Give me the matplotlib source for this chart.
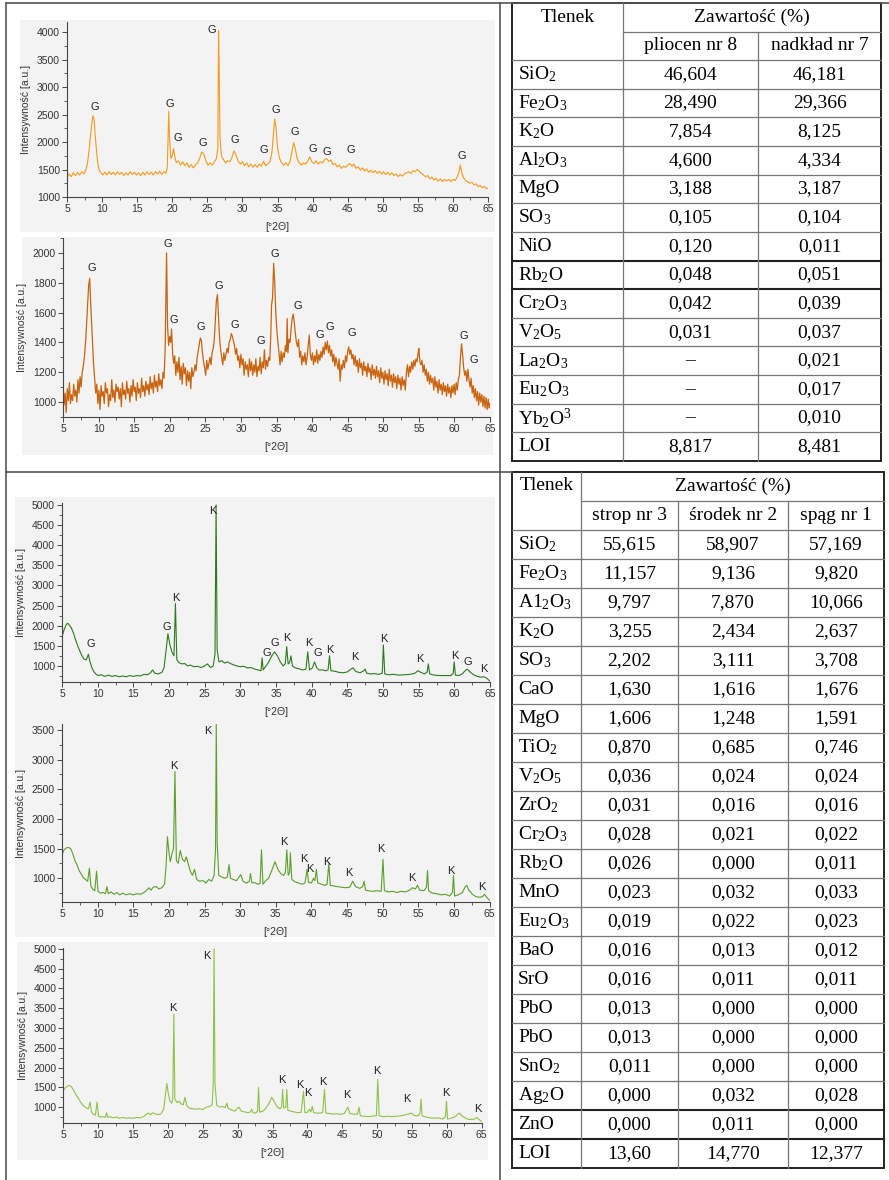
import numpy as np
import matplotlib
matplotlib.use('Agg')
import matplotlib.pyplot as plt
from matplotlib.patches import Rectangle
from matplotlib.ticker import MultipleLocator

plt.rcParams['font.family'] = ['Liberation Sans', 'DejaVu Sans']
plt.rcParams['mathtext.fontset'] = 'custom'
plt.rcParams['mathtext.rm'] = 'Liberation Serif'
plt.rcParams['mathtext.it'] = 'Liberation Serif:italic'
plt.rcParams['mathtext.bf'] = 'Liberation Serif:bold'

W, H = 889, 1180

# ---- XRD patterns (2theta, intensity) ----
PLIOCEN_XRD = [
    (5.0, 1350), (5.3, 1420), (5.6, 1370), (5.9, 1440), (6.2, 1390), (6.5, 1450), (6.8, 1400), (7.1, 1460),
    (7.4, 1420), (7.7, 1500), (7.9, 1600), (8.1, 1800), (8.3, 2050), (8.5, 2300), (8.7, 2480), (8.85, 2420),
    (9.0, 2150), (9.2, 1850), (9.4, 1600), (9.6, 1480), (9.8, 1450), (10.1, 1400), (10.4, 1450), (10.7, 1400),
    (11.0, 1460), (11.3, 1410), (11.6, 1450), (11.9, 1400), (12.2, 1460), (12.5, 1410), (12.8, 1450), (13.1, 1390),
    (13.4, 1440), (13.7, 1400), (14.0, 1460), (14.3, 1410), (14.6, 1450), (14.9, 1400), (15.2, 1440), (15.5, 1390),
    (15.8, 1450), (16.1, 1400), (16.4, 1460), (16.7, 1410), (17.0, 1450), (17.3, 1400), (17.6, 1460), (17.9, 1420),
    (18.2, 1470), (18.5, 1410), (18.8, 1460), (19.1, 1430), (19.3, 1550), (19.5, 2560), (19.6, 2100), (19.8, 1700),
    (20.0, 1750), (20.2, 1880), (20.4, 1700), (20.6, 1620), (20.9, 1660), (21.2, 1580), (21.5, 1640), (21.8, 1570),
    (22.1, 1620), (22.4, 1540), (22.7, 1590), (23.0, 1530), (23.3, 1580), (23.6, 1620), (23.9, 1700), (24.2, 1820),
    (24.5, 1780), (24.8, 1650), (25.1, 1580), (25.4, 1620), (25.7, 1580), (26.0, 1640), (26.3, 1700), (26.5, 1900),
    (26.6, 4030), (26.7, 3250), (26.8, 2100), (27.0, 1750), (27.3, 1680), (27.6, 1620), (27.9, 1660), (28.2, 1640),
    (28.5, 1720), (28.8, 1840), (29.1, 1760), (29.4, 1650), (29.7, 1600), (30.0, 1640), (30.3, 1570), (30.6, 1620),
    (30.9, 1550), (31.2, 1600), (31.5, 1540), (31.8, 1590), (32.1, 1540), (32.4, 1600), (32.7, 1560), (33.0, 1650),
    (33.3, 1570), (33.6, 1600), (33.9, 1640), (34.2, 1800), (34.45, 2200), (34.6, 2420), (34.8, 2250), (35.0, 1900),
    (35.3, 1700), (35.6, 1620), (35.9, 1580), (36.2, 1620), (36.5, 1570), (36.8, 1650), (37.1, 1850), (37.3, 1990),
    (37.5, 1900), (37.8, 1700), (38.1, 1620), (38.4, 1580), (38.7, 1620), (39.0, 1600), (39.3, 1650), (39.6, 1730),
    (39.9, 1640), (40.2, 1610), (40.5, 1660), (40.8, 1600), (41.1, 1640), (41.4, 1620), (41.7, 1680), (42.0, 1700),
    (42.3, 1650), (42.6, 1670), (42.9, 1590), (43.2, 1610), (43.5, 1550), (43.8, 1580), (44.1, 1520), (44.4, 1560),
    (44.7, 1540), (45.0, 1580), (45.3, 1610), (45.6, 1560), (45.9, 1600), (46.2, 1520), (46.5, 1550), (46.8, 1490),
    (47.1, 1530), (47.4, 1470), (47.7, 1510), (48.0, 1450), (48.3, 1490), (48.6, 1440), (48.9, 1480), (49.2, 1430),
    (49.5, 1470), (49.8, 1420), (50.1, 1460), (50.4, 1410), (50.7, 1450), (51.0, 1400), (51.3, 1440), (51.6, 1390),
    (51.9, 1420), (52.2, 1370), (52.5, 1410), (52.8, 1380), (53.1, 1420), (53.4, 1440), (53.7, 1460), (54.0, 1430),
    (54.3, 1480), (54.6, 1460), (54.9, 1500), (55.2, 1470), (55.5, 1430), (55.8, 1400), (56.1, 1370), (56.4, 1390),
    (56.7, 1330), (57.0, 1360), (57.3, 1310), (57.6, 1340), (57.9, 1290), (58.2, 1330), (58.5, 1280), (58.8, 1320),
    (59.1, 1290), (59.4, 1320), (59.7, 1280), (60.0, 1320), (60.3, 1300), (60.6, 1360), (60.85, 1450), (61.05, 1580),
    (61.25, 1450), (61.5, 1350), (61.8, 1300), (62.1, 1280), (62.4, 1250), (62.7, 1270), (63.0, 1220), (63.3, 1240),
    (63.6, 1190), (63.9, 1210), (64.2, 1170), (64.5, 1190), (64.8, 1150), (65.0, 1160),
]

NADKLAD_XRD = [
    (5.0, 1150), (5.15, 980), (5.3, 1060), (5.45, 930), (5.6, 1090), (5.75, 1010), (5.9, 1130), (6.05, 990),
    (6.2, 1050), (6.35, 1010), (6.5, 1120), (6.65, 1040), (6.8, 1080), (6.95, 1000), (7.1, 1150), (7.25, 1060),
    (7.4, 1170), (7.55, 1100), (7.7, 1200), (7.85, 1240), (8.0, 1300), (8.2, 1420), (8.4, 1600), (8.6, 1780),
    (8.75, 1830), (8.9, 1650), (9.1, 1450), (9.3, 1250), (9.45, 1150), (9.6, 1060), (9.75, 1120), (9.9, 990),
    (10.05, 1080), (10.2, 950), (10.35, 1110), (10.5, 1040), (10.65, 1070), (10.8, 990), (10.95, 1130), (11.1, 1060),
    (11.25, 1090), (11.4, 970), (11.55, 1050), (11.7, 1010), (11.85, 1150), (12.0, 1030), (12.15, 1080), (12.3, 1000),
    (12.45, 1120), (12.6, 1070), (12.75, 1100), (12.9, 1020), (13.05, 1090), (13.2, 970), (13.35, 1130), (13.5, 1050),
    (13.65, 1080), (13.8, 1020), (13.95, 1140), (14.1, 1060), (14.25, 1090), (14.4, 1000), (14.55, 1110), (14.7, 1040),
    (14.85, 1150), (15.0, 1070), (15.15, 1100), (15.3, 1010), (15.45, 1130), (15.6, 1060), (15.75, 1090), (15.9, 1030),
    (16.05, 1160), (16.2, 1070), (16.35, 1110), (16.5, 1040), (16.65, 1140), (16.8, 1080), (16.95, 1120), (17.1, 1050),
    (17.25, 1170), (17.4, 1090), (17.55, 1130), (17.7, 1060), (17.85, 1180), (18.0, 1100), (18.15, 1140), (18.3, 1070),
    (18.45, 1190), (18.6, 1110), (18.75, 1150), (18.9, 1090), (19.05, 1200), (19.2, 1160), (19.35, 1350),
    (19.45, 1700), (19.55, 2000), (19.7, 1500), (19.85, 1380), (20.0, 1440), (20.15, 1400), (20.25, 1490), (20.4, 1330),
    (20.55, 1260), (20.7, 1310), (20.85, 1180), (21.0, 1270), (21.15, 1200), (21.3, 1300), (21.45, 1150), (21.6, 1240),
    (21.75, 1120), (21.9, 1260), (22.05, 1190), (22.2, 1230), (22.35, 1110), (22.5, 1210), (22.65, 1140), (22.8, 1200),
    (22.95, 1090), (23.1, 1230), (23.25, 1170), (23.4, 1200), (23.55, 1250), (23.7, 1210), (23.85, 1300), (24.0, 1340),
    (24.15, 1390), (24.3, 1430), (24.45, 1410), (24.6, 1330), (24.75, 1270), (24.9, 1230), (25.05, 1180), (25.2, 1280),
    (25.35, 1220), (25.5, 1260), (25.65, 1300), (25.8, 1250), (25.95, 1330), (26.1, 1360), (26.25, 1410), (26.4, 1550),
    (26.55, 1680), (26.7, 1720), (26.85, 1580), (27.0, 1430), (27.15, 1350), (27.3, 1300), (27.45, 1250), (27.6, 1330),
    (27.75, 1280), (27.9, 1320), (28.05, 1360), (28.2, 1330), (28.35, 1400), (28.5, 1420), (28.65, 1460), (28.8, 1440),
    (28.95, 1410), (29.1, 1380), (29.25, 1320), (29.4, 1360), (29.55, 1280), (29.7, 1310), (29.85, 1230), (30.0, 1320),
    (30.15, 1250), (30.3, 1290), (30.45, 1180), (30.6, 1270), (30.75, 1220), (30.9, 1250), (31.05, 1170), (31.2, 1290),
    (31.35, 1210), (31.5, 1270), (31.65, 1180), (31.8, 1250), (31.95, 1200), (32.1, 1290), (32.25, 1170), (32.4, 1240),
    (32.55, 1210), (32.7, 1300), (32.85, 1190), (33.0, 1270), (33.15, 1230), (33.3, 1350), (33.45, 1220), (33.6, 1280),
    (33.75, 1240), (33.9, 1300), (34.05, 1280), (34.2, 1450), (34.3, 1650), (34.45, 1700), (34.6, 1930), (34.75, 1800),
    (34.9, 1600), (35.05, 1480), (35.2, 1400), (35.35, 1330), (35.5, 1250), (35.65, 1340), (35.8, 1270), (35.95, 1330),
    (36.1, 1300), (36.25, 1380), (36.4, 1340), (36.5, 1560), (36.6, 1330), (36.75, 1420), (36.9, 1400), (37.05, 1490),
    (37.2, 1560), (37.35, 1590), (37.5, 1530), (37.65, 1460), (37.8, 1400), (37.95, 1370), (38.1, 1420), (38.25, 1300),
    (38.4, 1340), (38.55, 1250), (38.7, 1310), (38.85, 1270), (39.0, 1330), (39.15, 1250), (39.3, 1300), (39.45, 1380),
    (39.6, 1450), (39.75, 1320), (39.9, 1280), (40.05, 1330), (40.2, 1250), (40.35, 1310), (40.5, 1270), (40.65, 1350),
    (40.8, 1260), (40.95, 1320), (41.1, 1280), (41.25, 1340), (41.4, 1300), (41.55, 1370), (41.7, 1320), (41.85, 1400),
    (42.0, 1350), (42.15, 1410), (42.3, 1330), (42.45, 1380), (42.6, 1310), (42.75, 1350), (42.9, 1270), (43.05, 1320),
    (43.2, 1240), (43.35, 1300), (43.5, 1260), (43.65, 1220), (43.8, 1290), (43.95, 1140), (44.1, 1250), (44.25, 1220),
    (44.4, 1280), (44.55, 1230), (44.7, 1310), (44.85, 1270), (45.0, 1340), (45.15, 1370), (45.3, 1320), (45.45, 1350),
    (45.6, 1290), (45.75, 1320), (45.9, 1250), (46.05, 1310), (46.2, 1240), (46.35, 1280), (46.5, 1200), (46.65, 1290),
    (46.8, 1230), (46.95, 1260), (47.1, 1180), (47.25, 1270), (47.4, 1210), (47.55, 1240), (47.7, 1170), (47.85, 1260),
    (48.0, 1200), (48.15, 1230), (48.3, 1150), (48.45, 1250), (48.6, 1180), (48.75, 1220), (48.9, 1160), (49.05, 1240),
    (49.2, 1170), (49.35, 1210), (49.5, 1130), (49.65, 1230), (49.8, 1160), (49.95, 1200), (50.1, 1120), (50.25, 1210),
    (50.4, 1150), (50.55, 1190), (50.7, 1110), (50.85, 1220), (51.0, 1140), (51.15, 1180), (51.3, 1100), (51.45, 1190),
    (51.6, 1130), (51.75, 1170), (51.9, 1090), (52.05, 1180), (52.2, 1120), (52.35, 1160), (52.5, 1080), (52.65, 1170),
    (52.8, 1110), (52.95, 1150), (53.1, 1080), (53.25, 1200), (53.4, 1250), (53.55, 1170), (53.7, 1240), (53.85, 1200),
    (54.0, 1270), (54.15, 1220), (54.3, 1280), (54.45, 1240), (54.6, 1290), (54.75, 1270), (54.9, 1330), (55.0, 1360),
    (55.15, 1270), (55.3, 1250), (55.45, 1280), (55.6, 1200), (55.75, 1250), (55.9, 1180), (56.05, 1220), (56.2, 1140),
    (56.35, 1200), (56.5, 1120), (56.65, 1180), (56.8, 1130), (56.95, 1160), (57.1, 1080), (57.25, 1170), (57.4, 1100),
    (57.55, 1140), (57.7, 1060), (57.85, 1150), (58.0, 1080), (58.15, 1120), (58.3, 1050), (58.45, 1130), (58.6, 1070),
    (58.75, 1110), (58.9, 1040), (59.05, 1120), (59.2, 1060), (59.35, 1100), (59.5, 1030), (59.65, 1110), (59.8, 1060),
    (59.95, 1120), (60.1, 1050), (60.25, 1130), (60.4, 1080), (60.55, 1150), (60.7, 1180), (60.85, 1300),
    (61.0, 1390), (61.15, 1320), (61.3, 1230), (61.45, 1180), (61.6, 1210), (61.75, 1140), (61.9, 1220), (62.05, 1150),
    (62.2, 1100), (62.35, 1160), (62.5, 1060), (62.65, 1110), (62.8, 1030), (62.95, 1090), (63.1, 1010), (63.25, 1070),
    (63.4, 980), (63.55, 1060), (63.7, 1000), (63.85, 1050), (64.0, 970), (64.15, 1040), (64.3, 960), (64.45, 1030),
    (64.6, 950), (64.75, 1020), (64.9, 960), (65.0, 990),
]

STROP_XRD = [
    (5.0, 1730), (5.3, 1900), (5.6, 2030), (5.8, 2060), (6.0, 2020), (6.3, 1950), (6.6, 1820), (6.9, 1650),
    (7.2, 1500), (7.5, 1370), (7.8, 1250), (8.1, 1170), (8.4, 1150), (8.7, 1290), (8.9, 1120), (9.2, 950),
    (9.5, 850), (9.8, 790), (10.1, 760), (10.5, 780), (11.0, 740), (11.5, 770), (12.0, 740), (12.5, 760),
    (13.0, 730), (13.5, 750), (14.0, 730), (14.5, 760), (15.0, 740), (15.5, 760), (16.0, 750), (16.5, 790),
    (17.0, 780), (17.4, 830), (17.7, 900), (18.0, 820), (18.5, 800), (19.0, 840), (19.3, 950), (19.6, 1400),
    (19.85, 1800), (20.1, 1550), (20.4, 1350), (20.7, 1250), (20.9, 2550), (21.1, 1150), (21.4, 1080), (21.8, 1050),
    (22.2, 1060), (22.6, 1000), (23.0, 1020), (23.5, 980), (24.0, 990), (24.5, 960), (25.0, 1000), (25.4, 1050),
    (25.8, 960), (26.2, 1000), (26.45, 1300), (26.6, 5000), (26.75, 1400), (27.0, 1100), (27.4, 1130), (27.8, 1070),
    (28.2, 1100), (28.6, 1060), (29.0, 1030), (29.5, 1000), (30.0, 980), (30.5, 990), (31.0, 950), (31.5, 960),
    (32.0, 920), (32.5, 900), (32.9, 880), (33.05, 1200), (33.2, 900), (33.6, 1000), (34.0, 1100), (34.4, 1250),
    (34.8, 1350), (35.2, 1250), (35.6, 1100), (36.0, 1000), (36.3, 1050), (36.5, 1480), (36.7, 1050), (36.9, 1080),
    (37.1, 1250), (37.3, 1000), (37.7, 950), (38.2, 930), (38.7, 900), (39.2, 920), (39.45, 1350), (39.7, 900),
    (40.1, 950), (40.4, 1100), (40.7, 960), (41.0, 900), (41.5, 900), (42.0, 880), (42.3, 900), (42.5, 1250),
    (42.7, 880), (43.2, 870), (43.8, 840), (44.4, 830), (45.0, 850), (45.5, 920), (45.8, 950), (46.2, 860),
    (46.8, 830), (47.3, 880), (47.5, 920), (47.7, 820), (48.2, 800), (48.8, 810), (49.4, 790), (49.9, 820),
    (50.05, 1520), (50.25, 800), (50.8, 780), (51.5, 790), (52.2, 770), (53.0, 780), (53.8, 790), (54.5, 820),
    (54.9, 880), (55.3, 840), (55.8, 800), (56.2, 850), (56.35, 1050), (56.55, 800), (57.2, 770), (58.0, 760),
    (58.8, 760), (59.5, 760), (59.85, 820), (59.98, 1100), (60.15, 770), (60.6, 760), (61.1, 800), (61.5, 880),
    (61.8, 920), (62.2, 850), (62.7, 780), (63.2, 740), (63.7, 720), (64.1, 730), (64.5, 700), (65.0, 620),
]

SRODEK_XRD = [
    (5.0, 1400), (5.3, 1480), (5.6, 1510), (5.9, 1520), (6.2, 1500), (6.5, 1420), (6.8, 1300), (7.1, 1230),
    (7.4, 1130), (7.7, 1070), (8.0, 1010), (8.3, 980), (8.6, 950), (8.85, 1170), (9.05, 870), (9.3, 820),
    (9.6, 790), (9.85, 1120), (10.05, 780), (10.4, 750), (10.8, 760), (11.1, 740), (11.3, 860), (11.5, 740),
    (11.9, 770), (12.3, 730), (12.7, 760), (13.1, 720), (13.5, 750), (14.0, 720), (14.5, 740), (15.0, 720),
    (15.5, 740), (16.0, 730), (16.5, 760), (16.9, 800), (17.2, 840), (17.5, 800), (17.8, 850), (18.2, 860),
    (18.6, 820), (19.0, 840), (19.4, 900), (19.6, 1200), (19.8, 1700), (20.0, 1450), (20.2, 1280), (20.45, 1420),
    (20.65, 1500), (20.85, 2800), (21.05, 1300), (21.3, 1250), (21.6, 1470), (21.9, 1320), (22.2, 1280), (22.45, 1360),
    (22.7, 1250), (23.0, 1120), (23.3, 1050), (23.6, 1150), (23.9, 980), (24.3, 950), (24.8, 960), (25.2, 920),
    (25.6, 980), (26.0, 950), (26.35, 1050), (26.55, 1500), (26.65, 3600), (26.78, 1600), (27.0, 1050), (27.4, 1020),
    (27.8, 1000), (28.2, 1020), (28.45, 1230), (28.65, 1000), (29.0, 980), (29.5, 960), (29.9, 1030), (30.1, 1060),
    (30.4, 950), (30.9, 920), (31.3, 950), (31.45, 1080), (31.65, 920), (32.0, 930), (32.5, 900), (32.8, 910),
    (33.0, 1480), (33.2, 900), (33.6, 960), (34.0, 1000), (34.5, 1150), (34.9, 1280), (35.3, 1150), (35.7, 1080),
    (36.1, 1050), (36.35, 1100), (36.55, 1480), (36.75, 1050), (36.95, 1100), (37.05, 1430), (37.25, 980), (37.7, 940),
    (38.2, 920), (38.7, 900), (39.1, 920), (39.4, 1150), (39.6, 930), (40.0, 920), (40.3, 1000), (40.5, 960),
    (40.7, 1150), (40.9, 920), (41.4, 900), (41.9, 880), (42.2, 900), (42.45, 1250), (42.65, 880), (43.1, 870),
    (43.6, 860), (44.2, 850), (44.8, 840), (45.4, 850), (45.8, 950), (46.2, 860), (46.8, 830), (47.2, 860),
    (47.4, 950), (47.6, 800), (48.0, 790), (48.6, 780), (49.2, 790), (49.8, 780), (50.05, 1320), (50.25, 790),
    (50.8, 770), (51.4, 780), (52.0, 760), (52.6, 780), (53.2, 770), (53.8, 800), (54.2, 840), (54.6, 820),
    (54.9, 880), (55.2, 800), (55.8, 790), (56.15, 850), (56.3, 1130), (56.45, 790), (57.0, 750), (57.6, 740),
    (58.2, 720), (58.8, 730), (59.4, 700), (59.8, 760), (59.95, 1050), (60.1, 700), (60.6, 720), (61.2, 760),
    (61.6, 860), (61.8, 880), (62.1, 800), (62.6, 730), (63.1, 690), (63.6, 680), (64.0, 690), (64.3, 730),
    (64.6, 680), (65.0, 630),
]

SPAG_XRD = [
    (5.0, 1420), (5.3, 1490), (5.6, 1530), (5.9, 1550), (6.2, 1510), (6.5, 1420), (6.8, 1320), (7.1, 1240),
    (7.4, 1150), (7.7, 1070), (8.0, 1020), (8.3, 980), (8.6, 960), (8.85, 1130), (9.05, 870), (9.3, 820),
    (9.6, 800), (9.85, 1130), (10.05, 770), (10.4, 750), (10.8, 760), (11.05, 740), (11.2, 860), (11.4, 740),
    (11.8, 760), (12.2, 730), (12.6, 750), (13.0, 720), (13.5, 740), (14.0, 720), (14.5, 730), (15.0, 720),
    (15.5, 740), (16.0, 730), (16.5, 760), (16.9, 820), (17.2, 850), (17.5, 810), (17.8, 860), (18.2, 830),
    (18.6, 810), (19.0, 830), (19.4, 950), (19.6, 1250), (19.85, 1600), (20.05, 1350), (20.3, 1150), (20.55, 1100),
    (20.7, 1200), (20.85, 3350), (21.0, 1200), (21.3, 1120), (21.6, 1150), (21.9, 1080), (22.2, 1060), (22.45, 1250),
    (22.7, 1050), (23.0, 980), (23.5, 960), (24.0, 950), (24.5, 960), (25.0, 940), (25.5, 1000), (26.0, 1020),
    (26.35, 1060), (26.5, 1600), (26.62, 5000), (26.75, 1600), (27.0, 1050), (27.4, 1000), (27.8, 1020), (28.2, 990),
    (28.45, 1100), (28.65, 970), (29.1, 930), (29.6, 900), (30.0, 980), (30.2, 1000), (30.5, 900), (31.0, 880),
    (31.5, 860), (31.85, 880), (32.0, 950), (32.2, 860), (32.6, 850), (32.85, 900), (33.0, 1500), (33.15, 870),
    (33.6, 900), (34.0, 960), (34.5, 1100), (34.9, 1250), (35.3, 1120), (35.7, 1000), (36.1, 960), (36.3, 1000),
    (36.45, 1450), (36.6, 980), (36.9, 1000), (37.05, 1450), (37.2, 920), (37.6, 900), (38.1, 880), (38.6, 860),
    (39.1, 870), (39.45, 1400), (39.65, 860), (40.0, 870), (40.3, 950), (40.5, 880), (40.7, 1020), (40.9, 860),
    (41.4, 850), (41.9, 850), (42.2, 870), (42.45, 1450), (42.65, 850), (43.1, 840), (43.6, 830), (44.2, 830),
    (44.8, 820), (45.3, 840), (45.8, 1000), (46.1, 840), (46.7, 820), (47.2, 830), (47.4, 1000), (47.6, 780),
    (48.1, 770), (48.7, 760), (49.3, 770), (49.9, 790), (50.1, 1700), (50.3, 780), (50.9, 760), (51.5, 770),
    (52.1, 760), (52.7, 770), (53.3, 780), (53.9, 800), (54.4, 820), (54.9, 850), (55.3, 790), (55.9, 780),
    (56.15, 850), (56.3, 1200), (56.45, 780), (57.0, 750), (57.6, 730), (58.2, 720), (58.8, 730), (59.4, 700),
    (59.8, 760), (59.95, 1150), (60.1, 700), (60.6, 720), (61.2, 760), (61.6, 830), (61.8, 850), (62.1, 790),
    (62.6, 730), (63.1, 690), (63.6, 690), (64.0, 700), (64.3, 740), (64.6, 690), (65.0, 640),
]

# peak labels (phase, 2theta, intensity)
PLIOCEN_LAB = [('G', 8.9, 2630), ('G', 19.7, 2700), ('G', 20.8, 2070), ('G', 24.4, 1980), ('G', 25.7, 4040),
               ('G', 28.9, 2040), ('G', 33.1, 1860), ('G', 34.7, 2580), ('G', 37.5, 2180), ('G', 40.0, 1870),
               ('G', 42.0, 1820), ('G', 45.5, 1860), ('G', 61.2, 1750)]
NADKLAD_LAB = [('G', 9.0, 1900), ('G', 19.7, 2060), ('G', 20.6, 1550), ('G', 24.4, 1500), ('G', 26.9, 1780),
               ('G', 29.1, 1520), ('G', 32.8, 1410), ('G', 34.7, 1995), ('G', 38.0, 1645), ('G', 41.1, 1450),
               ('G', 42.5, 1500), ('G', 45.6, 1460), ('G', 61.25, 1440), ('G', 62.7, 1280)]
STROP_LAB = [('G', 9.1, 1550), ('G', 19.7, 1975), ('K', 20.9, 2700), ('K', 26.1, 4850), ('G', 33.7, 1330),
             ('G', 34.9, 1580), ('K', 36.5, 1690), ('K', 39.6, 1565), ('G', 40.8, 1315), ('K', 42.5, 1400),
             ('K', 46.1, 1230), ('K', 50.1, 1670), ('K', 55.1, 1165), ('K', 60.1, 1255), ('G', 61.9, 1105),
             ('K', 64.15, 925)]
SRODEK_LAB = [('K', 20.75, 2890), ('K', 25.45, 3490), ('K', 36.2, 1605), ('K', 39.0, 1325), ('K', 39.8, 1155),
              ('K', 42.15, 1270), ('K', 45.3, 1085), ('K', 49.7, 1485), ('K', 54.1, 1005), ('K', 59.5, 1130),
              ('K', 63.9, 860)]
SPAG_LAB = [('K', 20.7, 3495), ('K', 25.65, 4825), ('K', 36.3, 1675), ('K', 38.95, 1550), ('K', 40.1, 1365),
            ('K', 42.15, 1635), ('K', 45.65, 1315), ('K', 49.95, 1915), ('K', 54.3, 1195), ('K', 59.85, 1365),
            ('K', 64.4, 960)]

# ---- oxide tables ----
TOP_OXIDES = ['SiO$_\\mathrm{2}$', 'Fe$_\\mathrm{2}$O$_\\mathrm{3}$', 'K$_\\mathrm{2}$O',
              'Al$_\\mathrm{2}$O$_\\mathrm{3}$', 'MgO', 'SO$_\\mathrm{3}$', 'NiO', 'Rb$_\\mathrm{2}$O',
              'Cr$_\\mathrm{2}$O$_\\mathrm{3}$', 'V$_\\mathrm{2}$O$_\\mathrm{5}$', 'La$_\\mathrm{2}$O$_\\mathrm{3}$',
              'Eu$_\\mathrm{2}$O$_\\mathrm{3}$', 'Yb$_\\mathrm{2}$O$^\\mathrm{3}$', 'LOI']
PLIOCEN_NR8 = ['46,604', '28,490', '7,854', '4,600', '3,188', '0,105', '0,120', '0,048', '0,042', '0,031',
               '–', '–', '–', '8,817']
NADKLAD_NR7 = ['46,181', '29,366', '8,125', '4,334', '3,187', '0,104', '0,011', '0,051', '0,039', '0,037',
               '0,021', '0,017', '0,010', '8,481']

BOT_OXIDES = ['SiO$_\\mathrm{2}$', 'Fe$_\\mathrm{2}$O$_\\mathrm{3}$', 'A1$_\\mathrm{2}$O$_\\mathrm{3}$',
              'K$_\\mathrm{2}$O', 'SO$_\\mathrm{3}$', 'CaO', 'MgO', 'TiO$_\\mathrm{2}$',
              'V$_\\mathrm{2}$O$_\\mathrm{5}$', 'ZrO$_\\mathrm{2}$', 'Cr$_\\mathrm{2}$O$_\\mathrm{3}$',
              'Rb$_\\mathrm{2}$O', 'MnO', 'Eu$_\\mathrm{2}$O$_\\mathrm{3}$', 'BaO', 'SrO', 'PbO', 'PbO',
              'SnO$_\\mathrm{2}$', 'Ag$_\\mathrm{2}$O', 'ZnO', 'LOI']
STROP_NR3 = ['55,615', '11,157', '9,797', '3,255', '2,202', '1,630', '1,606', '0,870', '0,036', '0,031',
             '0,028', '0,026', '0,023', '0,019', '0,016', '0,016', '0,013', '0,013', '0,011', '0,000',
             '0,000', '13,60']
SRODEK_NR2 = ['58,907', '9,136', '7,870', '2,434', '3,111', '1,616', '1,248', '0,685', '0,024', '0,016',
              '0,021', '0,000', '0,032', '0,022', '0,013', '0,011', '0,000', '0,000', '0,000', '0,032',
              '0,011', '14,770']
SPAG_NR1 = ['57,169', '9,820', '10,066', '2,637', '3,708', '1,676', '1,591', '0,746', '0,024', '0,016',
            '0,022', '0,011', '0,033', '0,023', '0,012', '0,011', '0,000', '0,000', '0,000', '0,028',
            '0,000', '12,377']

fig = plt.figure(figsize=(W / 100, H / 100), dpi=100)
fig.patch.set_facecolor('white')

# overlay in pixel units for frame, panels and tables
base = fig.add_axes([0, 0, 1, 1])
base.set_xlim(0, W)
base.set_ylim(H, 0)
base.axis('off')

PANEL = '#f3f3f3'
for (l, t, w, h) in [(20, 20, 475, 212), (22, 237, 471, 218), (15, 497, 480, 440), (17, 942, 471, 218)]:
    base.add_patch(Rectangle((l, t), w, h, facecolor=PANEL, edgecolor='none'))

# outer frame
fc = '#555555'
base.plot([6, 6], [3, H], color=fc, lw=1.2)
base.plot([6, W], [3, 3], color=fc, lw=1.2)
base.plot([500, 500], [3, H], color=fc, lw=1.2)
base.plot([6, 512], [472, 472], color=fc, lw=1.2)


def px_axes(l, t, r, b):
    return fig.add_axes([l / W, 1 - b / H, (r - l) / W, (b - t) / H])


def draw_xrd(box, pts, color, ylim, ymaj, ymin, labels, lw=0.8):
    ax = px_axes(*box)
    x, y = np.array(pts).T
    ax.plot(x, y, color=color, lw=lw)
    ax.set_xlim(5, 65)
    ax.set_ylim(*ylim)
    ax.set_facecolor('none')
    for s in ['top', 'right']:
        ax.spines[s].set_visible(False)
    for s in ['left', 'bottom']:
        ax.spines[s].set_color('#444444')
        ax.spines[s].set_linewidth(0.8)
    ax.xaxis.set_major_locator(MultipleLocator(5))
    ax.xaxis.set_minor_locator(MultipleLocator(2.5))
    ax.yaxis.set_major_locator(MultipleLocator(ymaj))
    ax.yaxis.set_minor_locator(MultipleLocator(ymin))
    ax.tick_params(which='major', length=3.5, width=0.7, color='#444444', labelsize=7.5,
                   labelcolor='#333333', pad=1.5)
    ax.tick_params(which='minor', length=2, width=0.6, color='#444444')
    for t, lx, ly in labels:
        ax.text(lx, ly, t, ha='center', va='center', fontsize=8, color='#222222')
    ax.set_xlabel('[°2Θ]', fontsize=7.5, color='#333333', labelpad=6)
    ax.set_ylabel('Intensywność [a.u.]', fontsize=7.5, color='#333333', labelpad=4)
    return ax


draw_xrd((67, 21.7, 488, 197), PLIOCEN_XRD, '#f39a1f', (1000, 4190), 500, 250, PLIOCEN_LAB)
draw_xrd((63, 238, 490, 417), NADKLAD_XRD, '#c8640f', (900, 2100), 200, 100, NADKLAD_LAB, lw=0.9)
draw_xrd((62, 503, 490, 682), STROP_XRD, '#2d7a1f', (600, 5050), 500, 250, STROP_LAB)
draw_xrd((62, 724, 489.5, 902), SRODEK_XRD, '#5c9e2c', (600, 3600), 500, 250, SRODEK_LAB)
draw_xrd((63.3, 948, 481.7, 1123), SPAG_XRD, '#8fc24a', (600, 5020), 500, 250, SPAG_LAB)

SERIF = 'Liberation Serif'
FS = 14
GRID = '#777777'
EDGE = '#222222'


def draw_table(xs, top, hmid, hbot, bottom, names, cols, heads, thick):
    n = len(names)
    rh = (bottom - hbot) / n
    # inner grid
    for i in range(1, n):
        yy = hbot + i * rh
        lw, c = (1.5, EDGE) if i in thick else (0.9, GRID)
        base.plot([xs[0], xs[-1]], [yy, yy], color=c, lw=lw)
    base.plot([xs[1], xs[-1]], [hmid, hmid], color=GRID, lw=0.9)
    base.plot([xs[0], xs[-1]], [hbot, hbot], color=GRID, lw=0.9)
    base.plot([xs[1], xs[1]], [top, bottom], color=GRID, lw=0.9)
    for xx in xs[2:-1]:
        base.plot([xx, xx], [hmid, bottom], color=GRID, lw=0.9)
    base.add_patch(Rectangle((xs[0], top), xs[-1] - xs[0], bottom - top, fill=False,
                             edgecolor=EDGE, lw=1.4))
    # header
    base.text((xs[0] + xs[1]) / 2, top + 14, 'Tlenek', ha='center', va='center',
              family=SERIF, fontsize=FS)
    base.text((xs[1] + xs[-1]) / 2, (top + hmid) / 2, 'Zawartość (%)', ha='center', va='center',
              family=SERIF, fontsize=FS)
    for j, hd in enumerate(heads):
        base.text((xs[j + 1] + xs[j + 2]) / 2, (hmid + hbot) / 2, hd, ha='center', va='center',
                  family=SERIF, fontsize=FS)
    # body
    for i, nm in enumerate(names):
        yc = hbot + (i + 0.5) * rh
        base.text(xs[0] + 6, yc, nm, ha='left', va='center', family=SERIF, fontsize=FS)
        for j, col in enumerate(cols):
            base.text((xs[j + 1] + xs[j + 2]) / 2, yc, col[i], ha='center', va='center',
                      family=SERIF, fontsize=FS)


draw_table([512, 623, 758, 881], 3, 32, 60, 461, TOP_OXIDES, [PLIOCEN_NR8, NADKLAD_NR7],
           ['pliocen nr 8', 'nadkład nr 7'], thick={7, 8})
draw_table([512, 581, 678, 788, 884], 472, 501, 530, 1168, BOT_OXIDES,
           [STROP_NR3, SRODEK_NR2, SPAG_NR1], ['strop nr 3', 'środek nr 2', 'spąg nr 1'], thick={20, 21})

fig.savefig('out.png', dpi=100)
